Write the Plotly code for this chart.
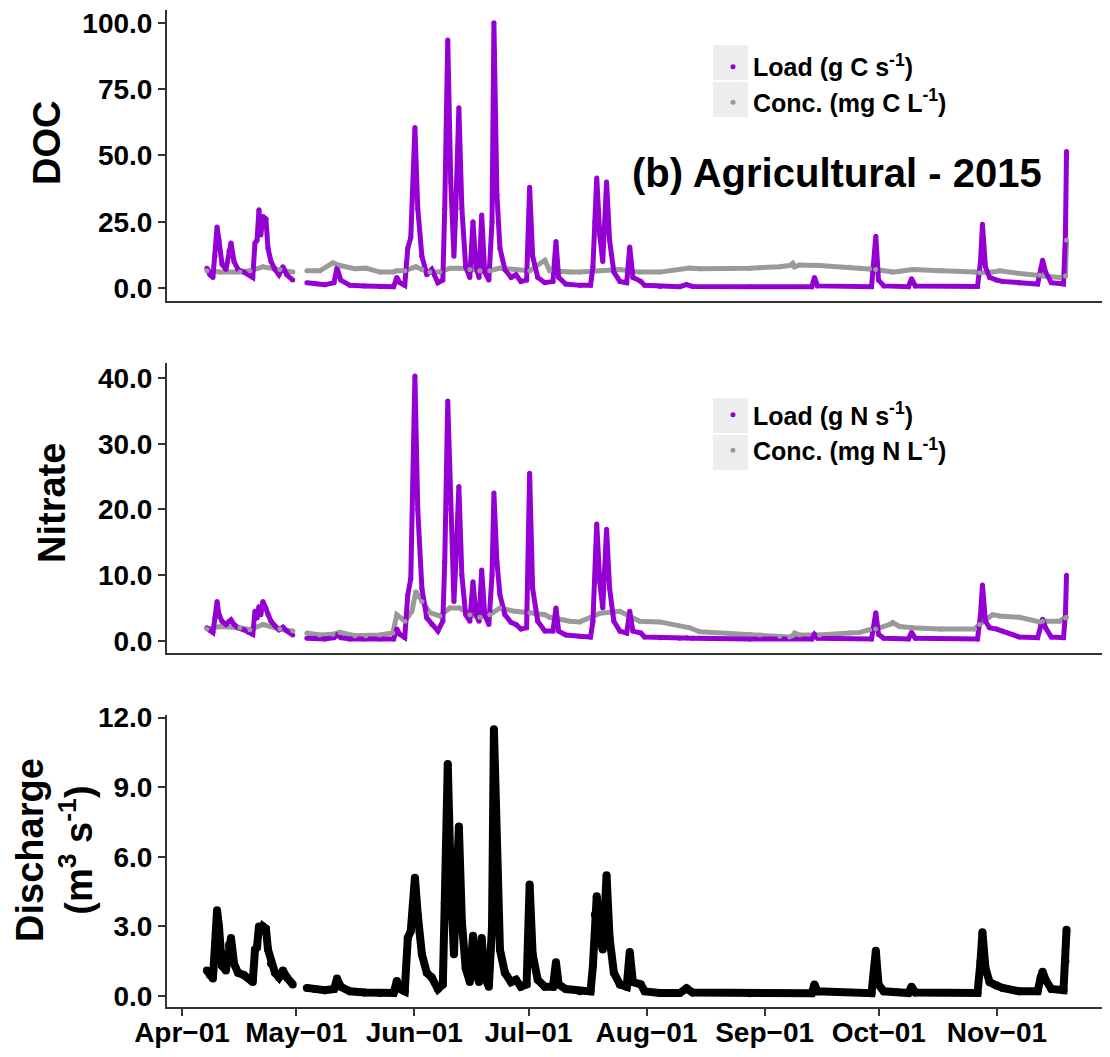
import plotly.graph_objects as go

# ---------------- data ----------------
event_times = [
    "2015-04-07 13:00", "2015-04-08 08:00", "2015-04-09 03:00", "2015-04-09 16:00", "2015-04-10 05:00",
    "2015-04-10 17:00", "2015-04-11 12:00", "2015-04-12 13:00", "2015-04-13 08:00", "2015-04-13 21:00",
    "2015-04-14 16:00", "2015-04-15 17:00", "2015-04-17 06:00", "2015-04-18 14:00", "2015-04-19 14:00",
    "2015-04-20 04:00", "2015-04-20 17:00", "2015-04-21 05:00", "2015-04-21 17:00", "2015-04-22 06:00",
    "2015-04-23 01:00", "2015-04-23 14:00", "2015-04-24 09:00", "2015-04-25 10:00", "2015-04-26 11:00",
    "2015-04-27 12:00", "2015-04-28 13:00", "2015-04-30 02:00",
    "2015-05-02 00:00",
    "2015-05-03 19:00", "2015-05-05 22:00", "2015-05-08 12:00", "2015-05-10 22:00", "2015-05-11 17:00",
    "2015-05-12 17:00", "2015-05-15 02:00", "2015-05-19 00:00", "2015-05-23 00:00", "2015-05-26 14:00",
    "2015-05-27 10:00", "2015-05-28 05:00", "2015-05-29 12:00",
    "2015-05-30 07:00", "2015-05-31 02:00", "2015-06-01 04:00", "2015-06-01 22:00", "2015-06-03 00:00",
    "2015-06-04 07:00", "2015-06-05 14:00", "2015-06-07 05:00", "2015-06-08 12:00", "2015-06-09 00:00",
    "2015-06-09 19:00", "2015-06-10 14:00", "2015-06-11 10:00", "2015-06-11 22:00", "2015-06-12 17:00",
    "2015-06-13 12:00", "2015-06-14 12:00", "2015-06-15 14:00", "2015-06-16 10:00", "2015-06-17 05:00",
    "2015-06-18 00:00", "2015-06-18 17:00", "2015-06-19 12:00", "2015-06-20 14:00", "2015-06-21 10:00",
    "2015-06-21 22:00", "2015-06-22 17:00", "2015-06-23 12:00", "2015-06-24 19:00", "2015-06-26 10:00",
    "2015-06-27 17:00", "2015-06-29 00:00", "2015-06-30 12:00",
    "2015-07-01 07:00", "2015-07-02 02:00", "2015-07-03 10:00", "2015-07-05 07:00", "2015-07-07 10:00",
    "2015-07-08 05:00", "2015-07-08 22:00", "2015-07-10 19:00", "2015-07-14 12:00", "2015-07-17 07:00",
    "2015-07-17 22:00", "2015-07-18 10:00", "2015-07-18 22:00", "2015-07-19 17:00", "2015-07-20 12:00",
    "2015-07-21 12:00", "2015-07-22 07:00", "2015-07-23 10:00", "2015-07-25 00:00", "2015-07-26 19:00",
    "2015-07-27 14:00", "2015-07-28 10:00", "2015-07-30 12:00", "2015-07-31 12:00", "2015-08-04 12:00",
    "2015-08-09 17:00", "2015-08-11 12:00", "2015-08-13 02:00", "2015-08-28 02:00", "2015-09-13 10:00",
    "2015-09-14 02:00", "2015-09-14 22:00", "2015-09-29 02:00", "2015-09-30 05:00", "2015-09-30 22:00",
    "2015-10-02 07:00", "2015-10-08 19:00", "2015-10-09 14:00", "2015-10-10 14:00", "2015-10-26 22:00",
    "2015-10-27 17:00", "2015-10-28 05:00", "2015-10-29 00:00", "2015-10-30 02:00", "2015-10-31 22:00",
    "2015-11-02 12:00", "2015-11-06 22:00", "2015-11-11 17:00", "2015-11-12 12:00", "2015-11-13 00:00",
    "2015-11-13 19:00", "2015-11-15 07:00", "2015-11-18 12:00", "2015-11-19 00:00", "2015-11-19 07:00",
]

doc_load = [
    7.5, 5, 4, 12, 23, 18, 9, 7, 14, 17,
    10, 7, 6, 5, 4, 17, 18, 29.5, 20, 27,
    26, 15, 10, 7, 5, 8, 5, 3,
    None,
    2, 1.8, 1.2, 2, 7.5, 3, 1, 0.8, 0.5, 0.5,
    4, 2, 1.0,
    15, 19, 60.5, 30, 12, 5, 7, 2, 3, 30,
    93.5, 40, 12, 30, 68, 30, 8, 4, 25, 8,
    4, 27.5, 6, 3, 25, 100, 35, 15, 7, 4,
    5, 2.5, 3,
    38, 12, 4, 2, 2.5, 17.5, 4, 1.5, 1, 1,
    8, 25, 41.5, 20, 10, 40, 18, 6, 2.5, 2,
    15.5, 4, 2.5, 1, 0.6, 0.5, 1.3, 0.6, 0.5, 0.5,
    4, 0.8, 0.5, 19.5, 3, 0.8, 0.5, 3.5, 0.8, 0.6,
    10, 24, 8, 4, 3, 2.5, 2, 1.5, 7, 10.5,
    6, 2, 1.5, 20, 51.5,
]

no3_load = [
    2.0, 1.6, 1.3, 3.5, 6.0, 4.0, 3.0, 2.5, 3.0, 3.2,
    2.5, 2.0, 1.7, 1.3, 1.0, 4.5, 3.5, 5.2, 4.0, 6.0,
    5.0, 4.0, 3.0, 2.3, 1.7, 2.1, 1.5, 0.9,
    None,
    0.4, 0.4, 0.3, 0.5, 0.9, 0.5, 0.3, 0.3, 0.3, 0.3,
    1.8, 1.0, 0.5,
    7, 9.5, 40.3, 20, 8, 3.5, 2.5, 1.5, 3, 12,
    36.5, 20, 6, 12, 23.5, 10, 4, 3, 9, 4,
    3, 10.8, 4, 2.5, 10, 22.5, 12, 7, 4, 2.8,
    2.5, 1.8, 2.0,
    25.5, 8, 3, 1.5, 1.5, 5, 1.5, 0.9, 0.7, 0.6,
    3, 9, 17.8, 9, 5, 17, 8, 3, 1.5, 1.2,
    4.5, 1.5, 1.2, 0.6, 0.5, 0.4, 0.5, 0.4, 0.3, 0.3,
    1.0, 0.4, 0.3, 4.3, 1.0, 0.4, 0.3, 1.3, 0.4, 0.3,
    4, 8.5, 3, 2, 1.8, 1.5, 0.6, 0.5, 2.5, 3.3,
    2, 0.6, 0.5, 4, 10,
]

discharge = [
    1.1, 0.9, 0.75, 2.2, 3.7, 3.0, 1.3, 1.1, 2.2, 2.5,
    1.4, 1.0, 0.9, 0.75, 0.6, 2.0, 2.1, 3.0, 2.8, 3.0,
    2.9, 2.0, 1.4, 1.0, 0.8, 1.1, 0.8, 0.5,
    None,
    0.35, 0.3, 0.25, 0.3, 0.75, 0.4, 0.2, 0.15, 0.13, 0.13,
    0.65, 0.3, 0.2,
    2.5, 2.8, 5.1, 3.5, 1.8, 1.0, 0.8, 0.3, 0.5, 4.0,
    10.0, 5, 1.8, 4, 7.3, 3.2, 1.2, 0.6, 2.6, 1.0,
    0.6, 2.5, 0.8, 0.4, 3.0, 11.5, 4.5, 2.0, 1.0, 0.6,
    0.7, 0.4, 0.5,
    4.8, 1.8, 0.7, 0.4, 0.4, 1.45, 0.5, 0.3, 0.2, 0.2,
    1.3, 3.5, 4.3, 2.5, 2.0, 5.2, 2.5, 1.0, 0.5, 0.4,
    1.9, 0.6, 0.5, 0.2, 0.13, 0.13, 0.33, 0.15, 0.12, 0.12,
    0.5, 0.2, 0.12, 1.95, 0.5, 0.2, 0.13, 0.4, 0.15, 0.13,
    1.5, 2.75, 1.2, 0.6, 0.45, 0.35, 0.2, 0.2, 0.8, 1.05,
    0.7, 0.3, 0.25, 1.5, 2.85,
]

conc_times = [
    "2015-04-07 13:00", "2015-04-10 23:00", "2015-04-16 05:00", "2015-04-18 20:00", "2015-04-22 06:00",
    "2015-04-26 17:00", "2015-04-30 03:00",
    "2015-05-02 00:00",
    "2015-05-03 19:00", "2015-05-07 05:00", "2015-05-10 15:00", "2015-05-12 11:00", "2015-05-16 10:00",
    "2015-05-19 07:00", "2015-05-22 23:00", "2015-05-26 09:00", "2015-05-27 10:00", "2015-05-29 13:00",
    "2015-05-31 09:00", "2015-06-01 10:00", "2015-06-03 00:00", "2015-06-05 02:00", "2015-06-07 17:00",
    "2015-06-10 08:00", "2015-06-12 23:00", "2015-06-15 14:00", "2015-06-18 05:00", "2015-06-20 20:00",
    "2015-06-23 11:00", "2015-06-27 10:00", "2015-07-01 08:00", "2015-07-05 07:00", "2015-07-06 14:00",
    "2015-07-11 20:00", "2015-07-14 11:00", "2015-07-19 17:00", "2015-07-24 23:00", "2015-07-30 05:00",
    "2015-08-04 11:00", "2015-08-12 08:00", "2015-08-14 23:00", "2015-08-28 02:00", "2015-08-30 17:00",
    "2015-09-04 23:00", "2015-09-07 14:00", "2015-09-08 09:00", "2015-09-08 21:00", "2015-09-10 05:00",
    "2015-09-15 11:00", "2015-09-23 08:00", "2015-09-25 23:00", "2015-09-28 14:00", "2015-09-30 04:00",
    "2015-10-03 20:00", "2015-10-04 15:00", "2015-10-06 11:00", "2015-10-09 21:00", "2015-10-16 23:00",
    "2015-10-17 18:00", "2015-10-26 03:00", "2015-10-27 11:00", "2015-10-30 21:00", "2015-11-01 17:00",
    "2015-11-06 23:00", "2015-11-12 05:00", "2015-11-13 00:00", "2015-11-17 11:00", "2015-11-19 00:00",
    "2015-11-19 07:00",
]

doc_conc = [
    6.5, 6.0, 6.0, 6.5, 8.0, 7.0, 6.0,
    None,
    6.5, 6.5, 9.5, 8.5, 7.3, 7.5, 6.0, 6.0, 6.5, 6.5,
    7.5, 8.0, 7.0, 6.0, 6.0, 7.5, 7.5, 7.0, 6.5, 6.5,
    7.5, 7.0, 6.5, 10.5, 6.5, 6.0, 6.0, 6.5, 7.0, 6.0,
    6.0, 7.5, 7.3, 7.5, 7.6, 8.0, 8.5, 9.3, 8.0, 8.7,
    8.5, 7.8, 7.5, 7.3, 7.0, 6.2, 6.0, 6.3, 7.0, 6.5,
    6.5, 6.0, 5.8, 6.0, 6.5, 5.5, 4.8, 4.5, 4.0, 4.5,
    18.0,
]

no3_conc = [
    1.8, 2.2, 2.0, 1.7, 2.5, 1.8, 1.5,
    None,
    1.2, 0.9, 1.0, 1.3, 0.8, 0.8, 0.9, 1.2, 4.0, 3.0,
    4.5, 7.5, 6.0, 4.3, 3.8, 5.0, 5.0, 4.0, 3.6, 4.0,
    5.0, 4.5, 4.3, 4.0, 3.6, 3.0, 2.9, 4.2, 4.5, 3.0,
    2.9, 2.0, 1.4, 1.0, 0.9, 0.7, 0.6, 0.8, 1.2, 0.9,
    0.9, 1.2, 1.3, 1.7, 1.8, 2.5, 2.8, 2.2, 2.0, 1.8,
    1.8, 1.8, 2.5, 4.0, 3.8, 3.6, 2.9, 3.0, 3.0, 3.5,
    3.6,
]

x_tick_vals = ["2015-04-01", "2015-05-01", "2015-06-01", "2015-07-01",
               "2015-08-01", "2015-09-01", "2015-10-01", "2015-11-01"]
x_tick_text = ["Apr\u221201", "May\u221201", "Jun\u221201", "Jul\u221201",
               "Aug\u221201", "Sep\u221201", "Oct\u221201", "Nov\u221201"]
doc_ticks = [0, 25, 50, 75, 100]
no3_ticks = [0, 10, 20, 30, 40]
q_ticks = [0, 3, 6, 9, 12]

# ---------------- style ----------------
PURPLE = "#9400D3"
GREY = "#9A9A9A"
BLACK = "#000000"
FONT = "Liberation Sans, Arial, sans-serif"
AXIS_COL = "#333333"

fig = go.Figure()


def add_pair(times, load, conc, load_name, conc_name, xa, ya, legend):
    # concentration (grey) drawn first
    fig.add_trace(go.Scatter(x=times[1], y=conc, mode="lines", xaxis=xa, yaxis=ya,
                             line=dict(color=GREY, width=5), showlegend=False,
                             legendgroup=legend + "conc", hoverinfo="skip"))
    fig.add_trace(go.Scatter(x=times[0], y=load, mode="lines", xaxis=xa, yaxis=ya,
                             line=dict(color=PURPLE, width=5), showlegend=False,
                             legendgroup=legend + "load", hoverinfo="skip"))
    fig.add_trace(go.Scatter(x=times[0], y=load, mode="markers", xaxis=xa, yaxis=ya,
                             marker=dict(color=PURPLE, size=5), name=load_name,
                             legend=legend, legendgroup=legend + "load", legendrank=1))
    fig.add_trace(go.Scatter(x=times[1], y=conc, mode="markers", xaxis=xa, yaxis=ya,
                             marker=dict(color=GREY, size=5), name=conc_name,
                             legend=legend, legendgroup=legend + "conc", legendrank=2))


add_pair((event_times, conc_times), doc_load, doc_conc,
         "Load (g C s<sup>-1</sup>)", "Conc. (mg C L<sup>-1</sup>)", "x", "y", "legend")
add_pair((event_times, conc_times), no3_load, no3_conc,
         "Load (g N s<sup>-1</sup>)", "Conc. (mg N L<sup>-1</sup>)", "x2", "y2", "legend2")

fig.add_trace(go.Scatter(x=event_times, y=discharge, mode="lines+markers", xaxis="x3", yaxis="y3",
                         line=dict(color=BLACK, width=8), marker=dict(color=BLACK, size=8),
                         showlegend=False, name="Discharge"))

# ---------------- layout ----------------
# page body has an 8px default margin, so the figure is sized to fit inside the window
x_range = ["2015-03-28 01:30", "2015-11-30 17:00"]
tickfont = dict(family=FONT, size=28, color="black", weight="bold")

xcommon = dict(type="date", range=x_range, showgrid=False, zeroline=False, showline=True,
               linecolor=AXIS_COL, linewidth=2, domain=[0, 1], automargin=False,
               ticklabeloverflow="allow")
ycommon = dict(showgrid=False, zeroline=False, showline=True, linecolor=AXIS_COL, linewidth=2,
               ticks="outside", ticklen=7, tickwidth=1.5, tickcolor=AXIS_COL, automargin=False,
               ticklabeloverflow="allow",
               tickfont=tickfont, tickformat=".1f", tickmode="array")

legend_common = dict(xanchor="left", yanchor="top", bgcolor="rgba(0,0,0,0)", borderwidth=0,
                     font=dict(family=FONT, size=25, color="black", weight="bold"),
                     traceorder="grouped", tracegroupgap=0, itemsizing="trace", itemwidth=30)

fig.update_layout(
    width=1102, height=1041,
    margin=dict(l=159, r=0, t=2, b=42, autoexpand=False),
    paper_bgcolor="white", plot_bgcolor="white",
    showlegend=True,
    xaxis=dict(**xcommon, anchor="y", showticklabels=False, ticks=""),
    xaxis2=dict(**xcommon, anchor="y2", showticklabels=False, ticks=""),
    xaxis3=dict(**xcommon, anchor="y3", ticks="outside", ticklen=7, tickwidth=1.5,
                tickcolor=AXIS_COL, tickmode="array", tickvals=x_tick_vals,
                ticktext=x_tick_text, tickfont=tickfont, ticklabelstandoff=-8),
    yaxis=dict(**ycommon, domain=[0.7081, 1.0], range=[-4.9, 104.8], tickvals=doc_ticks, anchor="x"),
    yaxis2=dict(**ycommon, domain=[0.3551, 0.6459], range=[-1.83, 42.28], tickvals=no3_ticks, anchor="x2"),
    yaxis3=dict(**ycommon, domain=[0.0, 0.2929], range=[-0.474, 12.11], tickvals=q_ticks, anchor="x3"),
    legend=dict(**legend_common, x=0.579, y=0.9659),
    legend2=dict(**legend_common, x=0.579, y=0.6168),
)

# grey legend key backgrounds
key_boxes = [(0.9649, 0.9298), (0.9278, 0.8927), (0.6108, 0.5757), (0.5737, 0.5386)]
for top, bottom in key_boxes:
    fig.add_shape(type="rect", xref="paper", yref="paper", x0=0.579, x1=0.6161,
                  y0=bottom, y1=top, fillcolor="#EEEEEE", line=dict(width=0), layer="above")

title_font = dict(family=FONT, size=38, color="black", weight="bold")
fig.add_annotation(text="DOC", xref="paper", yref="paper", x=-0.1273, y=0.8666,
                   textangle=-90, showarrow=False, font=title_font,
                   xanchor="center", yanchor="middle")
fig.add_annotation(text="Nitrate", xref="paper", yref="paper", x=-0.122, y=0.5055,
                   textangle=-90, showarrow=False, font=title_font,
                   xanchor="center", yanchor="middle")
fig.add_annotation(text="Discharge<br>(m<sup>3</sup> s<sup>-1</sup>)", xref="paper", yref="paper",
                   x=-0.1188, y=0.1575, textangle=-90, showarrow=False, font=title_font,
                   xanchor="center", yanchor="middle")
fig.add_annotation(text="(b) Agricultural - 2015", xref="paper", yref="paper", x=0.7105, y=0.8365,
                   showarrow=False, font=dict(family=FONT, size=40, color="black", weight="bold"),
                   xanchor="center", yanchor="middle")

fig.write_html("out.html")
